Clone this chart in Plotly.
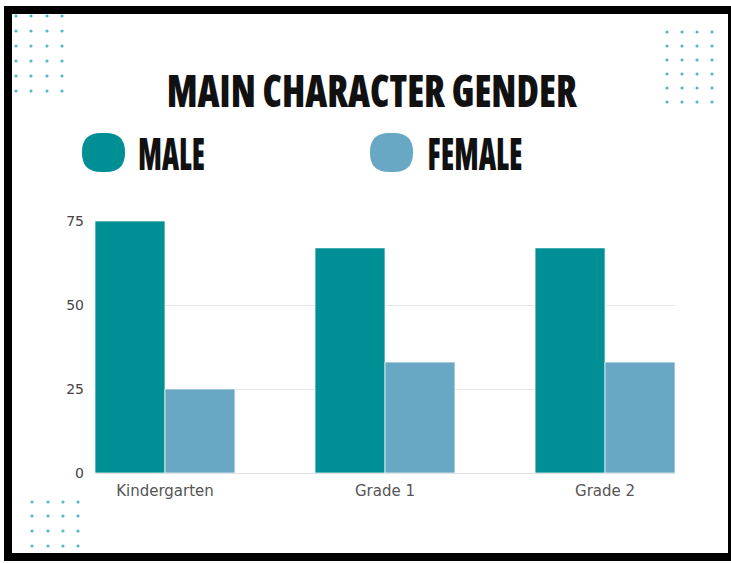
import plotly.graph_objects as go

# ---- data ----
categories = ["Kindergarten", "Grade 1", "Grade 2"]
male = [75, 67, 67]
female = [25, 33, 33]
series_names = ["MALE", "FEMALE"]
y_ticks = [0, 25, 50, 75]
title_text = "MAIN CHARACTER GENDER"

# ---- styles ----
MALE_COLOR = "#008f94"
FEMALE_COLOR = "#68a8c4"
DOT_COLOR = "#52b9c1"
HEAD_FONT = "Open Sans, sans-serif"
BODY_FONT = "DejaVu Sans, sans-serif"

W, H = 731, 563
L, R, T, B = 95, 56, 221, 90
pw = W - L - R
ph = H - T - B


def px(x):
    return (x - L) / pw


def py(y):
    return (H - B - y) / ph


fig = go.Figure()
colors = [MALE_COLOR, FEMALE_COLOR]
for name, vals, col in zip(series_names, [male, female], colors):
    fig.add_trace(go.Bar(
        x=categories, y=vals, name=name,
        marker=dict(color=col, line=dict(color="rgba(255,255,255,0.7)", width=1)),
        showlegend=False,
    ))

shapes = []


def dot_grid(cols, rows):
    for cx in cols:
        for cy in rows:
            shapes.append(dict(type="circle", xref="paper", yref="paper",
                               x0=px(cx - 1.6), x1=px(cx + 1.6),
                               y0=py(cy + 1.6), y1=py(cy - 1.6),
                               fillcolor=DOT_COLOR, line=dict(width=0), layer="above"))


dot_grid([16, 31, 47, 62], [16, 31, 46, 61, 76, 91])
dot_grid([667, 682, 697, 712], [32, 46, 60, 74, 88, 102])
dot_grid([32, 48, 63, 78], [502, 516, 531, 546])

# frame
shapes.append(dict(type="rect", xref="paper", yref="paper",
                   x0=px(8), x1=px(732), y0=py(557), y1=py(10),
                   line=dict(color="black", width=8), fillcolor="rgba(0,0,0,0)",
                   layer="above"))


def rounded(x0, y0, x1, y1, r, color):
    X0, X1 = px(x0), px(x1)
    Y0, Y1 = py(y1), py(y0)
    rx = r / pw
    ry = r / ph
    path = (f"M {X0+rx},{Y0} L {X1-rx},{Y0} Q {X1},{Y0} {X1},{Y0+ry} "
            f"L {X1},{Y1-ry} Q {X1},{Y1} {X1-rx},{Y1} L {X0+rx},{Y1} "
            f"Q {X0},{Y1} {X0},{Y1-ry} L {X0},{Y0+ry} Q {X0},{Y0} {X0+rx},{Y0} Z")
    shapes.append(dict(type="path", xref="paper", yref="paper", path=path,
                       fillcolor=color, line=dict(width=0)))


legend_x = [82, 370]
legend_text_center = [171.5, 474.5]
annotations = []
for lx, tc, name, col in zip(legend_x, legend_text_center, series_names, colors):
    rounded(lx, 133, lx + 43, 172, 19, col)
    annotations.append(dict(text=name, xref="paper", yref="paper",
                            x=px(tc), y=py(152), xanchor="center", yanchor="middle",
                            showarrow=False,
                            font=dict(family=HEAD_FONT, size=45, color="#111111", weight=800)))

annotations.append(dict(text=title_text, xref="paper", yref="paper",
                        x=px(372), y=py(90), xanchor="center", yanchor="middle",
                        showarrow=False,
                        font=dict(family=HEAD_FONT, size=44, color="#111111", weight=800)))

fig.update_layout(
    width=W, height=H,
    margin=dict(l=L, r=R, t=T, b=B, pad=0),
    paper_bgcolor="white", plot_bgcolor="white",
    barmode="group", bargap=0.364, bargroupgap=0,
    shapes=shapes, annotations=annotations,
    showlegend=False,
    xaxis=dict(range=[-0.318, 2.318], showgrid=False, showline=False, zeroline=False,
               ticks="", ticklabelstandoff=7,
               tickfont=dict(family=BODY_FONT, size=15, color="#555555")),
    yaxis=dict(range=[0, 75], tickvals=y_ticks, showgrid=True, gridcolor="#e6e6e6",
               gridwidth=1, zeroline=True, zerolinecolor="#e0e0e0", zerolinewidth=1,
               showline=False, ticks="", ticklabelstandoff=10,
               tickfont=dict(family=BODY_FONT, size=14, color="#444444")),
)

post = """
document.body.style.margin = '0';
var gd = document.getElementById('{plot_id}');
var targets = {'MAIN CHARACTER GENDER': 411, 'MALE': 67, 'FEMALE': 95};
gd.querySelectorAll('.annotation-text').forEach(function (t) {
  var s = t.textContent;
  if (!(s in targets)) return;
  t.style.fontStretch = '75%';
  var b = t.getBBox();
  var k = targets[s] / b.width;
  var cx = b.x + b.width / 2;
  t.setAttribute('transform', 'translate(' + cx + ',0) scale(' + k + ',1) translate(' + (-cx) + ',0)');
});
"""

fig.write_html("out.html", post_script=post, config={"displayModeBar": False})
